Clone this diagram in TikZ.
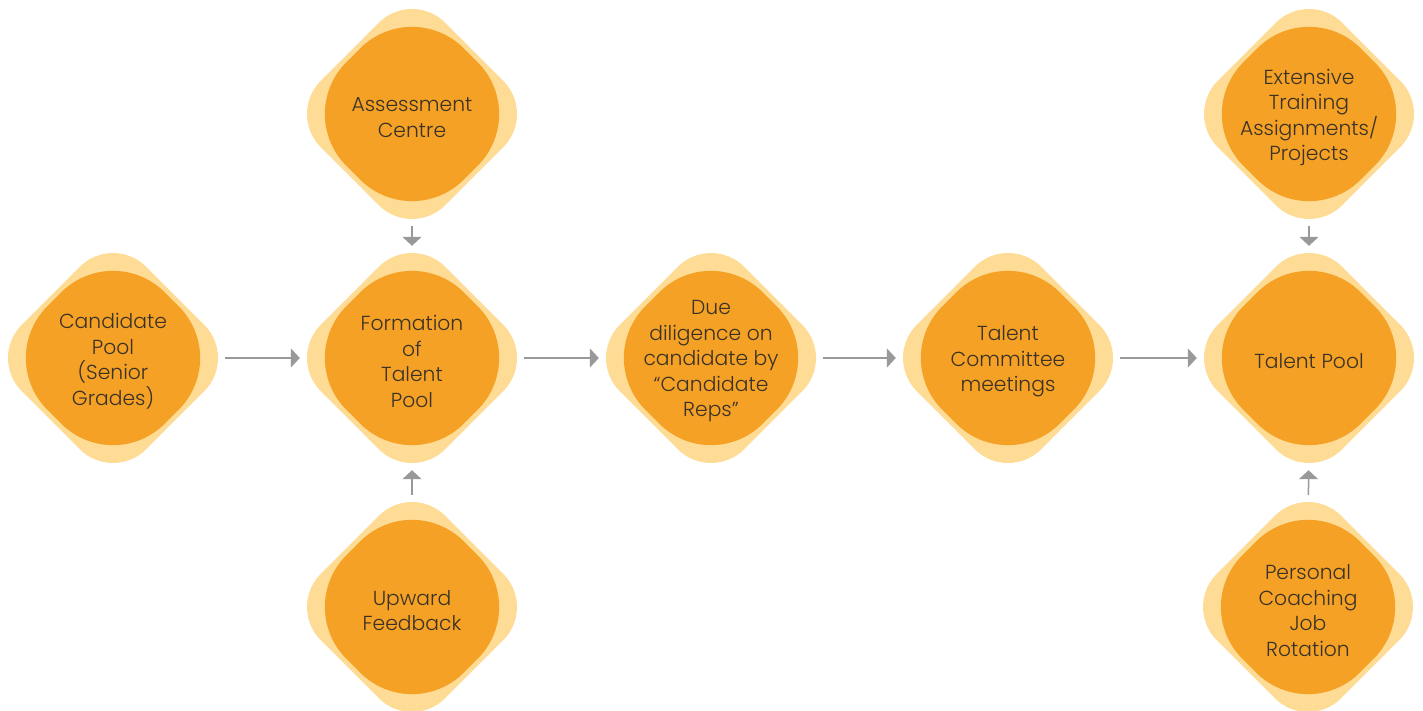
\documentclass[tikz,border=0pt]{standalone}
\usepackage{fontspec}
\setmainfont{Poppins}[UprightFont=* Light]
\usetikzlibrary{arrows.meta}
\definecolor{petal}{HTML}{FEDC95}
\definecolor{core}{HTML}{F4A125}
\definecolor{ink}{HTML}{3A3226}
\definecolor{link}{HTML}{999999}
\tikzset{
  petalshape/.style={fill=petal, rounded corners=47pt},
  coreshape/.style={fill=core, rounded corners=73pt},
  stage/.style={circle, minimum size=224pt, inner sep=0pt},
  caption/.style={align=center, inner sep=0pt, text=ink,
    font=\fontsize{20.3}{25.5}\selectfont},
  flow/.style={draw=link, line width=1.5pt, -{Triangle[length=9pt,width=19pt]}},
}
\begin{document}
\begin{tikzpicture}[x=1pt, y=-1pt]
  \useasboundingbox (0,0) rectangle (1423,711);
  \clip (0,0) rectangle (1423,711);
  % two-layer rounded diamonds behind every stage
  \foreach \cx/\cy in {113/358, 412/358, 412/114, 412/607, 711/358,
                       1008/358, 1309/358, 1309/114, 1308/607} {
    \path[petalshape, shift={(\cx,\cy)}, rotate=45] (-88,-88) rectangle (88,88);
    \path[coreshape, shift={(\cx,\cy)}, rotate=45] (-83,-83) rectangle (83,83);
  }
  % stage outlines used by the connectors
  \node[stage] (cand)   at (113,358)  {};
  \node[stage] (form)   at (412,358)  {};
  \node[stage] (assess) at (412,114)  {};
  \node[stage] (upward) at (412,607)  {};
  \node[stage] (due)    at (711,358)  {};
  \node[stage] (comm)   at (1008,358) {};
  \node[stage] (pool)   at (1309,358) {};
  \node[stage] (ext)    at (1309,114) {};
  \node[stage] (pers)   at (1308,607) {};
  % stage captions, set slightly below the centre
  \node[caption] (candtxt)   at ([yshift=-3.5pt]cand)   {Candidate\\Pool\\(Senior\\Grades)};
  \node[caption] (formtxt)   at ([yshift=-3.5pt]form)   {Formation\\of\\Talent\\Pool};
  \node[caption] (assesstxt) at ([yshift=-3.5pt]assess) {Assessment\\Centre};
  \node[caption] (upwardtxt) at ([yshift=-3.5pt]upward) {Upward\\Feedback};
  \node[caption] (duetxt)    at ([yshift=-3.5pt]due)    {Due\\diligence on\\candidate by\\“Candidate\\Reps”};
  \node[caption] (commtxt)   at ([yshift=-3.5pt]comm)   {Talent\\Committee\\meetings};
  \node[caption] (pooltxt)   at ([yshift=-3.5pt]pool)   {Talent Pool};
  \node[caption] (exttxt)    at ([yshift=-3.5pt]ext)    {Extensive\\Training\\Assignments/\\Projects};
  \node[caption] (perstxt)   at ([yshift=-3.5pt]pers)   {Personal\\Coaching\\Job\\Rotation};
  % connectors
  \draw[flow] (cand) -- (form);
  \draw[flow] (form) -- (due);
  \draw[flow] (due) -- (comm);
  \draw[flow] (comm) -- (pool);
  \draw[flow] (assess) -- (form);
  \draw[flow] (upward) -- (form);
  \draw[flow] (ext) -- (pool);
  \draw[flow] (pers) -- (pool);
\end{tikzpicture}
\end{document}
